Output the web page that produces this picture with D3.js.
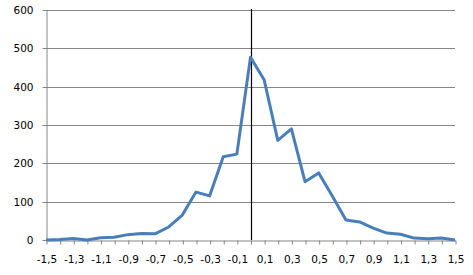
<!DOCTYPE html>
<html><head><meta charset="utf-8">
<script src="https://cdn.jsdelivr.net/npm/d3@7"></script>
<style>body{margin:0;background:#fff}svg{display:block}</style>
</head><body><svg id="c" width="473" height="275"></svg>
<script>
const categories = [-1.5,-1.4,-1.3,-1.2,-1.1,-1.0,-0.9,-0.8,-0.7,-0.6,-0.5,-0.4,-0.3,-0.2,-0.1,0,0.1,0.2,0.3,0.4,0.5,0.6,0.7,0.8,0.9,1.0,1.1,1.2,1.3,1.4,1.5];
const values = [0,1,4,0,6,7,14,17,16,34,65,125,115,217,224,477,418,260,290,152,175,115,52,47,31,18,15,5,3,5,0];
const yTicks = [0,100,200,300,400,500,600];
const xLabels = categories.filter((d,i)=>i%2===0);

const svg = d3.select("#c");
const L=46,R=455,T=10,B=240;
const x = d3.scalePoint().domain(categories).range([L,R]);
const y = d3.scaleLinear().domain([0,600]).range([B,T]);
const font = "'DejaVu Sans', Verdana, sans-serif";
const fmt = d => String(d).replace(".",",");

// gridlines
svg.append("g").selectAll("line").data(yTicks.filter(d=>d>0)).join("line")
  .attr("x1",L).attr("x2",R).attr("y1",d=>Math.round(y(d))+0.5).attr("y2",d=>Math.round(y(d))+0.5)
  .attr("stroke","#868686").attr("stroke-width",1);

// y axis
const ya = svg.append("g").attr("transform",`translate(${L+0.5},0.5)`)
  .call(d3.axisLeft(y).tickValues(yTicks).tickSize(4).tickPadding(9).tickSizeOuter(0));
ya.select(".domain").attr("stroke","#868686");
ya.selectAll(".tick line").attr("stroke","#868686");
ya.selectAll("text").attr("font-family",font).attr("font-size","10.5px").attr("fill","#000");
ya.selectAll(".tick").attr("transform",d=>`translate(0,${Math.round(y(d))})`);

// x axis
const xa = svg.append("g").attr("transform",`translate(0.5,${B+0.5})`)
  .call(d3.axisBottom(x).tickSize(4).tickPadding(11).tickSizeOuter(0).tickFormat(d=>xLabels.includes(d)?fmt(d):""));
xa.select(".domain").attr("stroke","#868686");
xa.selectAll(".tick line").attr("stroke","#868686");
xa.selectAll("text").attr("font-family",font).attr("font-size","10.5px").attr("fill","#000");

// vertical line at zero
svg.append("line").attr("x1",Math.round(x(0))+0.5).attr("x2",Math.round(x(0))+0.5)
  .attr("y1",T-1).attr("y2",B).attr("stroke","#000").attr("stroke-width",1.2);

// series
svg.append("path").datum(values.map((v,i)=>[categories[i],v]))
  .attr("fill","none").attr("stroke","#4a7ebb").attr("stroke-width",3).attr("stroke-linejoin","round")
  .attr("d",d3.line().x(d=>x(d[0])).y(d=>y(d[1])));
</script></body></html>
